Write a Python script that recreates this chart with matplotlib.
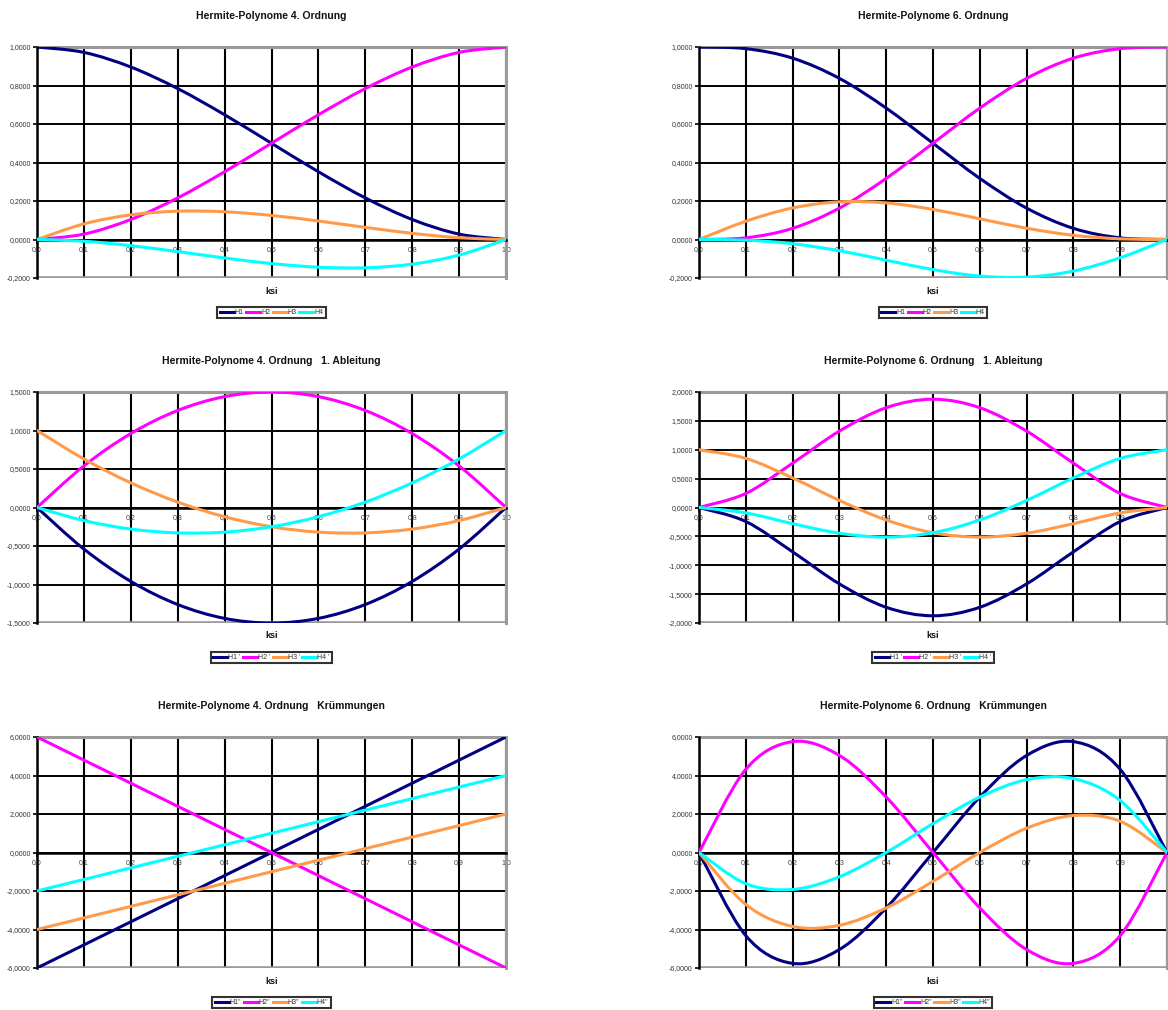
import numpy as np
import matplotlib
matplotlib.use("Agg")
import matplotlib.pyplot as plt
from matplotlib.path import Path
from matplotlib.patches import PathPatch
from matplotlib.lines import Line2D

plt.rcParams['font.family'] = ['Liberation Sans', 'DejaVu Sans']

# ---------------- data ----------------
ksi = [0.0, 0.1, 0.2, 0.3, 0.4, 0.5, 0.6, 0.7, 0.8, 0.9, 1.0]
xlabels_left = ["0,0", "0,1", "0,2", "0,3", "0,4", "0,5", "0,6", "0,7", "0,8", "0,9", "1,0"]
xlabels_right = ["0,0", "0,1", "0,2", "0,3", "0,4", "0,5", "0,6", "0,7", "0,8", "0,9", "1"]

# 4. Ordnung
h4_H1 = [1.0, 0.972, 0.896, 0.784, 0.648, 0.5, 0.352, 0.216, 0.104, 0.028, 0.0]
h4_H2 = [0.0, 0.028, 0.104, 0.216, 0.352, 0.5, 0.648, 0.784, 0.896, 0.972, 1.0]
h4_H3 = [0.0, 0.081, 0.128, 0.147, 0.144, 0.125, 0.096, 0.063, 0.032, 0.009, 0.0]
h4_H4 = [0.0, -0.009, -0.032, -0.063, -0.096, -0.125, -0.144, -0.147, -0.128, -0.081, 0.0]

h4_d1_H1 = [0.0, -0.54, -0.96, -1.26, -1.44, -1.5, -1.44, -1.26, -0.96, -0.54, 0.0]
h4_d1_H2 = [0.0, 0.54, 0.96, 1.26, 1.44, 1.5, 1.44, 1.26, 0.96, 0.54, 0.0]
h4_d1_H3 = [1.0, 0.63, 0.32, 0.07, -0.12, -0.25, -0.32, -0.33, -0.28, -0.17, 0.0]
h4_d1_H4 = [0.0, -0.17, -0.28, -0.33, -0.32, -0.25, -0.12, 0.07, 0.32, 0.63, 1.0]

h4_d2_H1 = [-6.0, -4.8, -3.6, -2.4, -1.2, 0.0, 1.2, 2.4, 3.6, 4.8, 6.0]
h4_d2_H2 = [6.0, 4.8, 3.6, 2.4, 1.2, 0.0, -1.2, -2.4, -3.6, -4.8, -6.0]
h4_d2_H3 = [-4.0, -3.4, -2.8, -2.2, -1.6, -1.0, -0.4, 0.2, 0.8, 1.4, 2.0]
h4_d2_H4 = [-2.0, -1.4, -0.8, -0.2, 0.4, 1.0, 1.6, 2.2, 2.8, 3.4, 4.0]

# 6. Ordnung
h6_H1 = [1.0, 0.99144, 0.94208, 0.83692, 0.68256, 0.5, 0.31744, 0.16308, 0.05792, 0.00856, 0.0]
h6_H2 = [0.0, 0.00856, 0.05792, 0.16308, 0.31744, 0.5, 0.68256, 0.83692, 0.94208, 0.99144, 1.0]
h6_H3 = [0.0, 0.09477, 0.16384, 0.19551, 0.19008, 0.15625, 0.10752, 0.05859, 0.02176, 0.00333, 0.0]
h6_H4 = [0.0, -0.00333, -0.02176, -0.05859, -0.10752, -0.15625, -0.19008, -0.19551, -0.16384, -0.09477, 0.0]

h6_d1_H1 = [0.0, -0.243, -0.768, -1.323, -1.728, -1.875, -1.728, -1.323, -0.768, -0.243, 0.0]
h6_d1_H2 = [0.0, 0.243, 0.768, 1.323, 1.728, 1.875, 1.728, 1.323, 0.768, 0.243, 0.0]
h6_d1_H3 = [1.0, 0.8505, 0.512, 0.1225, -0.216, -0.4375, -0.512, -0.4455, -0.28, -0.0935, 0.0]
h6_d1_H4 = [0.0, -0.0935, -0.28, -0.4455, -0.512, -0.4375, -0.216, 0.1225, 0.512, 0.8505, 1.0]

h6_d2_H1 = [0.0, -4.32, -5.76, -5.04, -2.88, 0.0, 2.88, 5.04, 5.76, 4.32, 0.0]
h6_d2_H2 = [0.0, 4.32, 5.76, 5.04, 2.88, 0.0, -2.88, -5.04, -5.76, -4.32, 0.0]
h6_d2_H3 = [0.0, -2.7, -3.84, -3.78, -2.88, -1.5, 0.0, 1.26, 1.92, 1.62, 0.0]
h6_d2_H4 = [0.0, -1.62, -1.92, -1.26, 0.0, 1.5, 2.88, 3.78, 3.84, 2.7, 0.0]

titles = [
    "Hermite-Polynome 4. Ordnung",
    "Hermite-Polynome 6. Ordnung",
    "Hermite-Polynome 4. Ordnung   1. Ableitung",
    "Hermite-Polynome 6. Ordnung   1. Ableitung",
    "Hermite-Polynome 4. Ordnung   Krümmungen",
    "Hermite-Polynome 6. Ordnung   Krümmungen",
]
legend_sets = [
    ["H1", "H2", "H3", "H4"],
    ["H1 '", "H2 '", "H3 '", "H4 '"],
    ["H1''", "H2''", "H3''", "H4''"],
]
yticks_sets = [
    [-0.2, 0.0, 0.2, 0.4, 0.6, 0.8, 1.0],
    [-0.2, 0.0, 0.2, 0.4, 0.6, 0.8, 1.0],
    [-1.5, -1.0, -0.5, 0.0, 0.5, 1.0, 1.5],
    [-2.0, -1.5, -1.0, -0.5, 0.0, 0.5, 1.0, 1.5, 2.0],
    [-6.0, -4.0, -2.0, 0.0, 2.0, 4.0, 6.0],
    [-6.0, -4.0, -2.0, 0.0, 2.0, 4.0, 6.0],
]
series_sets = [
    [h4_H1, h4_H2, h4_H3, h4_H4],
    [h6_H1, h6_H2, h6_H3, h6_H4],
    [h4_d1_H1, h4_d1_H2, h4_d1_H3, h4_d1_H4],
    [h6_d1_H1, h6_d1_H2, h6_d1_H3, h6_d1_H4],
    [h4_d2_H1, h4_d2_H2, h4_d2_H3, h4_d2_H4],
    [h6_d2_H1, h6_d2_H2, h6_d2_H3, h6_d2_H4],
]
colors = ["#000080", "#FF00FF", "#FF9A4A", "#00FFFF"]


def smooth_path(xs, ys):
    pts = np.column_stack([xs, ys]).astype(float)
    n = len(pts)
    verts = [pts[0]]
    codes = [Path.MOVETO]
    for i in range(n - 1):
        p0 = pts[i - 1] if i > 0 else pts[i]
        p1 = pts[i]
        p2 = pts[i + 1]
        p3 = pts[i + 2] if i + 2 < n else pts[i + 1]
        c1 = p1 + (p2 - p0) / 6.0
        c2 = p2 - (p3 - p1) / 6.0
        verts += [c1, c2, p2]
        codes += [Path.CURVE4] * 3
    return Path(np.array(verts), codes)


W, H = 1168, 1010
fig = plt.figure(figsize=(W / 100, H / 100), dpi=100)
fig.patch.set_facecolor("white")

col_left = [37, 699]
col_right = [506, 1167]
row_top = [47, 392, 737]
row_bot = [278, 623, 968]

for k in range(6):
    r, c = k // 2, k % 2
    x0, x1 = col_left[c], col_right[c]
    y0, y1 = row_top[r], row_bot[r]
    ax = fig.add_axes([x0 / W, 1 - y1 / H, (x1 - x0) / W, (y1 - y0) / H])
    yt = yticks_sets[k]
    ax.set_xlim(0, 1)
    ax.set_ylim(yt[0], yt[-1])

    for s, col in zip(series_sets[k], colors):
        ax.add_patch(PathPatch(smooth_path(ksi, s), fill=False, edgecolor=col,
                               lw=2.2, zorder=4, capstyle='round', joinstyle='round'))

    # grid
    for xv in ksi:
        ax.axvline(xv, color="black", lw=1.5, zorder=1)
    for yv in yt:
        ax.axhline(yv, color="black", lw=1.4, zorder=1)

    # spines
    for sp in ["top", "right"]:
        ax.spines[sp].set_color("#9a9a9a")
        ax.spines[sp].set_linewidth(2.2)
        ax.spines[sp].set_zorder(2)
    ax.spines["left"].set_color("black")
    ax.spines["left"].set_linewidth(1.8)
    ax.spines["bottom"].set_position(("data", 0.0))
    ax.spines["bottom"].set_color("black")
    ax.spines["bottom"].set_linewidth(1.8)
    ax.axhline(yt[0], color="#9a9a9a", lw=2.6, zorder=2)
    ax.axhline(yt[-1], color="#9a9a9a", lw=2.2, zorder=2)

    ax.set_yticks(yt)
    ax.set_yticklabels([("%.4f" % v).replace(".", ",") for v in yt])
    ax.tick_params(axis="y", labelsize=5, length=3, width=1.2, pad=1.5,
                   labelcolor="#333333", color="black")
    ax.set_xticks(ksi)
    ax.set_xticklabels(xlabels_left if c == 0 else xlabels_right)
    ax.tick_params(axis="x", labelsize=5, length=3, width=1.2, pad=1.5,
                   labelcolor="#444444", color="black", direction="out")

    ph = y1 - y0
    ax.text(0.5, 1 + 31 / ph, titles[k], transform=ax.transAxes, ha="center",
            va="center", fontsize=7.5, fontweight="bold", color="#111111")
    ax.text(0.5, -13 / ph, "ksi", transform=ax.transAxes, ha="center",
            va="center", fontsize=6.5, fontweight="bold", color="#111111")

    handles = [Line2D([], [], color=col, lw=2.2) for col in colors]
    leg = ax.legend(handles, legend_sets[r], loc="center", ncol=4,
                    bbox_to_anchor=(0.5, -34.5 / ph), fontsize=5,
                    frameon=True, fancybox=False, handlelength=2.0,
                    handletextpad=0.15, columnspacing=0.35, borderpad=0.35,
                    borderaxespad=0)
    leg.get_frame().set_edgecolor("black")
    leg.get_frame().set_linewidth(1.5)
    for t in leg.get_texts():
        t.set_color("#333333")

fig.savefig("out.png", dpi=100, facecolor="white")
